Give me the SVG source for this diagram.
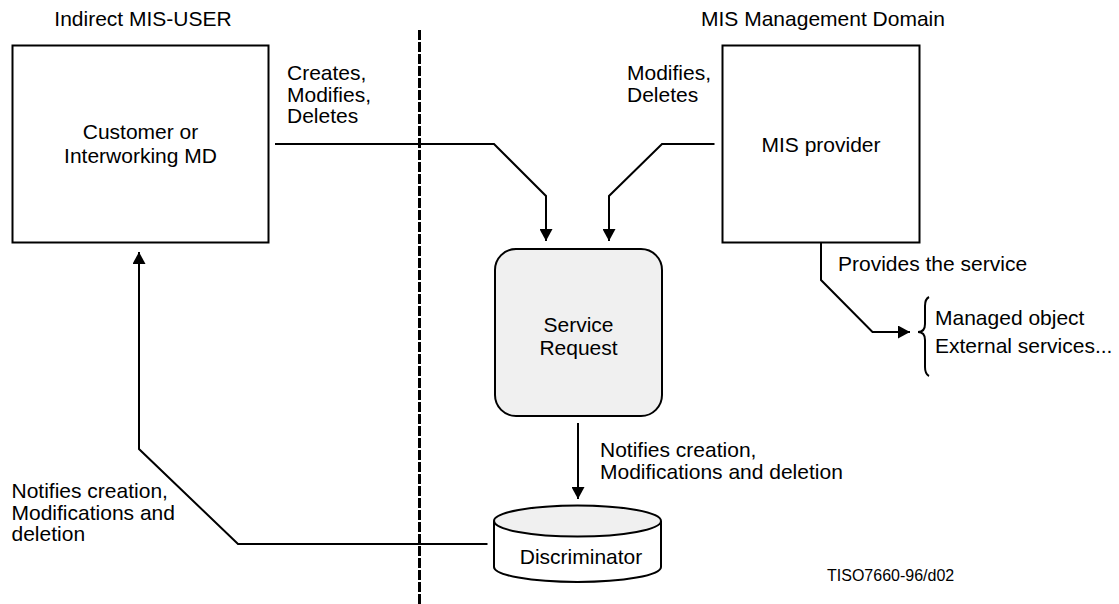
<svg xmlns="http://www.w3.org/2000/svg" width="1119" height="604" viewBox="0 0 1119 604">
<defs>
<style>
text{font-family:"Liberation Sans",Arial,sans-serif;font-size:21px;fill:#000}
.c{text-anchor:middle}
.box{fill:#fff;stroke:#000;stroke-width:2}
.line{fill:none;stroke:#000;stroke-width:2}
.small{font-size:16px}
</style>
<marker id="ah" viewBox="0 0 12 13" refX="12" refY="6.5" markerWidth="12" markerHeight="13" markerUnits="userSpaceOnUse" orient="auto">
<path d="M0,0 L12,6.5 L0,13 Z" fill="#000"/>
</marker>
</defs>
<rect width="1119" height="604" fill="#fff"/>
<text class="c" x="143" y="26">Indirect MIS-USER</text>
<text class="c" x="823" y="26">MIS Management Domain</text>
<line x1="419.5" y1="30" x2="419.5" y2="604" stroke="#000" stroke-width="3" stroke-dasharray="10,2"/>
<g id="customer">
<rect class="box" x="12.5" y="45.5" width="256" height="197"/>
<text class="c" x="140.5" y="139">Customer or</text>
<text class="c" x="140.5" y="163">Interworking MD</text>
</g>
<g id="provider">
<rect class="box" x="722.5" y="45.5" width="197" height="197"/>
<text class="c" x="821" y="152">MIS provider</text>
</g>
<g id="service-request">
<rect x="495" y="249" width="167" height="167" rx="21" ry="21" fill="#f0f0f0" stroke="#000" stroke-width="2"/>
<text class="c" x="578.5" y="332">Service</text>
<text class="c" x="578.5" y="355">Request</text>
</g>
<g id="discriminator">
<path d="M494,521 L494,567 A83.5,15 0 0 0 661,567 L661,521" fill="#fff" stroke="#000" stroke-width="2"/>
<ellipse cx="577.5" cy="521" rx="83.5" ry="15.5" fill="#f0f0f0" stroke="#000" stroke-width="2"/>
<text class="c" x="581" y="564">Discriminator</text>
</g>
<g id="connectors">
<polyline class="line" points="275,144 494,144 546,196 546,241" marker-end="url(#ah)"/>
<polyline class="line" points="714.5,144 662,144 609,196 609,241" marker-end="url(#ah)"/>
<polyline class="line" points="821,243 821,280 872.5,332 910,332" marker-end="url(#ah)"/>
<line class="line" x1="578" y1="423" x2="578" y2="499" marker-end="url(#ah)"/>
<polyline class="line" points="487.5,544 238,544 139,449 139,252" marker-end="url(#ah)"/>
<path class="line" d="M929,297 Q925,299 925,306 L925,324 Q925,332 918,332 Q925,332 925,340 L925,367 Q925,374 929,376" stroke-width="1.8"/>
</g>
<g id="labels">
<text x="287" y="80">Creates,</text>
<text x="287" y="101.7">Modifies,</text>
<text x="287" y="123.3">Deletes</text>
<text x="627" y="80">Modifies,</text>
<text x="627" y="101.7">Deletes</text>
<text x="838" y="270.5">Provides the service</text>
<text x="935" y="325">Managed object</text>
<text x="935" y="353">External services...</text>
<text x="600" y="457">Notifies creation,</text>
<text x="600" y="479">Modifications and deletion</text>
<text x="11.5" y="497.5">Notifies creation,</text>
<text x="11.5" y="519.5">Modifications and</text>
<text x="11.5" y="541">deletion</text>
<text class="small" x="827" y="581">TISO7660-96/d02</text>
</g>
</svg>
